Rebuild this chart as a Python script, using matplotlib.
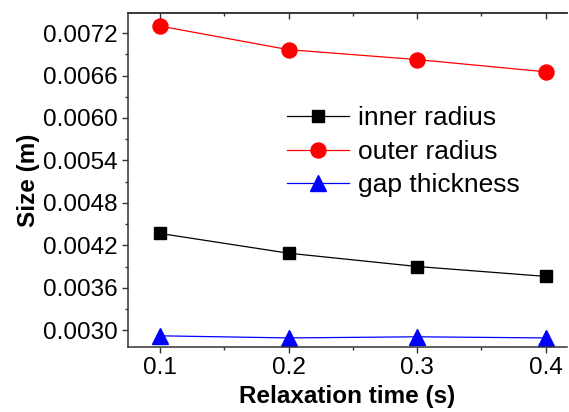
import matplotlib
matplotlib.use('Agg')
import matplotlib.pyplot as plt
from matplotlib.ticker import MultipleLocator, FormatStrFormatter, NullFormatter

plt.rcParams['font.family'] = ['Liberation Sans', 'DejaVu Sans']

# data
relax_time = [0.1, 0.2, 0.3, 0.4]
inner_radius = [0.004368, 0.004088, 0.003900, 0.003760]
outer_radius = [0.007300, 0.006966, 0.006826, 0.006653]
gap_thickness = [0.002920, 0.002890, 0.002906, 0.002890]

fig = plt.figure(figsize=(5.69, 4.12), dpi=100)
ax = fig.add_axes([0.225, 0.1585, 0.7715, 0.81])

ax.plot(relax_time, inner_radius, color='black', lw=0.9, marker='s', ms=8.6, label='inner radius')
ax.plot(relax_time, outer_radius, color='red', lw=0.9, marker='o', ms=10.8, label='outer radius')
ax.plot(relax_time, gap_thickness, color='blue', lw=0.9, marker='^', ms=11, label='gap thickness')

ax.set_xlim(0.0752, 0.4165)
ax.set_ylim(0.002766, 0.007485)

ax.xaxis.set_major_locator(MultipleLocator(0.1))
ax.xaxis.set_minor_locator(MultipleLocator(0.05))
ax.yaxis.set_major_locator(MultipleLocator(0.0006))
ax.yaxis.set_minor_locator(MultipleLocator(0.0003))
ax.xaxis.set_major_formatter(FormatStrFormatter('%.1f'))
ax.yaxis.set_major_formatter(FormatStrFormatter('%.4f'))

ax.tick_params(which='both', direction='out', top=False, right=False, width=1.0, labelsize=17.5, colors='#333333', labelcolor='black')
ax.tick_params(which='major', length=4.5, pad=3)
ax.tick_params(which='minor', length=2.5)
for sp in ax.spines.values():
    sp.set_linewidth(1.1)
    sp.set_color('#333333')
ax.spines['right'].set_visible(False)

# top axis: ticks pointing inward, no labels
top = ax.secondary_xaxis('top')
top.xaxis.set_major_locator(MultipleLocator(0.1))
top.xaxis.set_minor_locator(MultipleLocator(0.05))
top.xaxis.set_major_formatter(NullFormatter())
top.tick_params(which='both', direction='in', width=1.0, colors='#333333')
top.tick_params(which='major', length=4.5)
top.tick_params(which='minor', length=2.5)
top.spines['top'].set_linewidth(1.1)
top.spines['top'].set_color('#333333')

ax.set_xlabel('Relaxation time (s)', fontsize=17.5, fontweight='bold', labelpad=4)
ax.set_ylabel('Size (m)', fontsize=17.5, fontweight='bold', labelpad=2)

ax.legend(loc='upper left', bbox_to_anchor=(0.504, 0.742), bbox_transform=fig.transFigure,
          frameon=False, fontsize=19, handlelength=2.35, handletextpad=0.35,
          labelspacing=0.36, borderpad=0, borderaxespad=0)

fig.savefig('out.png', dpi=100)
